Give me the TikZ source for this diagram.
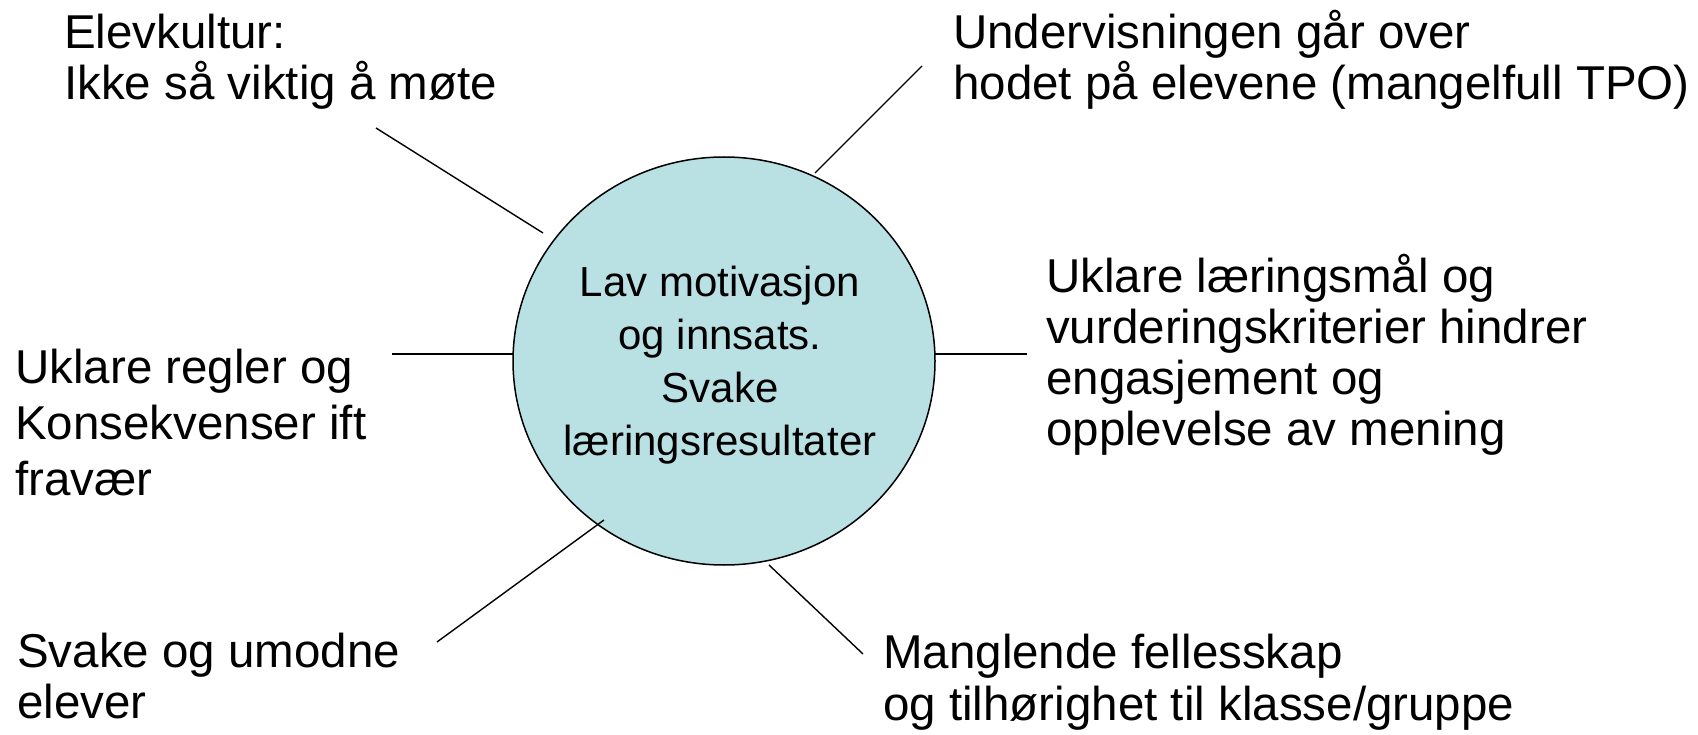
\documentclass[tikz,border=0pt]{standalone}
\usepackage{fontspec}
\setmainfont{Liberation Sans}
\usetikzlibrary{shapes.geometric}
\definecolor{circfill}{RGB}{185,224,227}
\begin{document}
\begin{tikzpicture}[x=1pt,y=-1pt,
  lbl/.style={anchor=base west,align=left,inner sep=0pt,font=\fontsize{47.5}{51}\selectfont},
  conn/.style={line width=1.4pt,black},
  hub/.style={ellipse,draw=black,line width=1.5pt,fill=circfill,minimum width=422pt,minimum height=408pt,inner sep=0pt},
  hubtext/.style={anchor=base,align=center,inner sep=0pt,font=\fontsize{42}{52.7}\selectfont}]
\useasboundingbox (0,0) rectangle (1698,735);
\node[hub] (c) at (724,361) {};
\node[hubtext] (ctext) at (720,455) {Lav motivasjon\\ og innsats.\\Svake\\læringsresultater};
\node[lbl] (elev) at (64,100) {Elevkultur:\\Ikke så viktig å møte};
\node[lbl] (under) at (953,100) {Undervisningen går over\\hodet på elevene (mangelfull TPO)};
\node[lbl] (maal) at (1046,445) {Uklare læringsmål og\\vurderingskriterier hindrer\\engasjement og\\opplevelse av mening};
\node[lbl,font=\fontsize{47.5}{56}\selectfont] (regler) at (15,495) {Uklare regler og\\Konsekvenser ift\\fravær};
\node[lbl] (svake) at (17,718) {Svake og umodne\\elever};
\node[lbl,font=\fontsize{47.5}{52}\selectfont] (mangl) at (883,720) {Manglende fellesskap\\og tilhørighet til klasse/gruppe};
\coordinate (ulo) at (376,128); \coordinate (uli) at (543,233);
\coordinate (uro) at (922,66);  \coordinate (uri) at (815,173);
\coordinate (lo) at (392,354);  \coordinate (li) at (513,354);
\coordinate (ro) at (1027,354); \coordinate (ri) at (935,354);
\coordinate (llo) at (437,642); \coordinate (lli) at (604,520);
\coordinate (lro) at (863,654); \coordinate (lri) at (769,565);
\draw[conn] (ulo) -- (uli);
\draw[conn] (uro) -- (uri);
\draw[conn] (lo) -- (li);
\draw[conn] (ro) -- (ri);
\draw[conn] (llo) -- (lli);
\draw[conn] (lro) -- (lri);
\end{tikzpicture}
\end{document}
